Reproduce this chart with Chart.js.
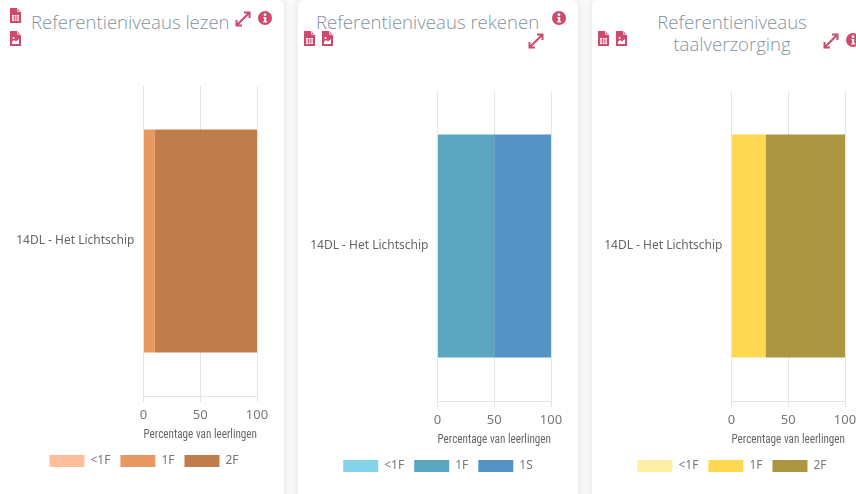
<!DOCTYPE html>
<html><head><meta charset="utf-8">
<script src="https://cdn.jsdelivr.net/npm/chart.js@4"></script>
<style>
html,body{margin:0;padding:0;width:856px;height:494px;overflow:hidden;background:#fafafa;}
.card{position:absolute;top:0;width:286px;height:520px;background:#fff;border-radius:6px;box-shadow:0 0 10px rgba(0,0,0,.1);}
canvas{position:absolute;}
.title{position:absolute;font-family:"Open Sans",sans-serif;font-weight:300;font-size:18.6px;line-height:22px;color:#84939d;text-align:center;white-space:nowrap;}
svg{position:absolute;}
</style></head><body>
<div class="card" style="left:-2px"></div>
<div class="card" style="left:298px;width:280px"></div>
<div class="card" style="left:592px;width:280px"></div>
<div class="title" style="left:31px;top:11px;width:198px">Referentieniveaus lezen</div>
<div class="title" style="left:316px;top:11px;width:222px">Referentieniveaus rekenen</div>
<div class="title" style="left:648px;top:11px;width:168px">Referentieniveaus<br>taalverzorging</div>
<canvas id="c1" style="left:4px;top:71px"></canvas>
<canvas id="c2" style="left:298px;top:76px"></canvas>
<canvas id="c3" style="left:592px;top:76px"></canvas>
<script>
const categories = ["14DL - Het Lichtschip"];
const levels1 = ["<1F", "1F", "2F"];
const levels2 = ["<1F", "1F", "1S"];
const levels3 = ["<1F", "1F", "2F"];
const lezen = [0, 10, 90];
const rekenen = [0, 50, 50];
const taal = [0, 30, 70];
const colors1 = ["rgba(255,178,138,.85)", "rgba(230,142,80,.9)", "rgba(184,106,50,.88)"];
const colors2 = ["rgba(112,202,232,.85)", "rgba(72,156,184,.9)", "rgba(64,136,190,.9)"];
const colors3 = ["rgba(255,236,150,.85)", "rgba(255,212,64,.9)", "rgba(160,136,40,.88)"];
const axisTitle = "Percentage van leerlingen";
const xTicks = [0, 50, 100];

const widenLabelArea = { id: "widenLabelArea", afterLayout(chart) { chart.scales.y.left = 0; } };

function make(id, levels, values, colors) {
  const el = document.getElementById(id);
  el.width = 280; el.height = 424;
  new Chart(el, {
    type: "bar",
    plugins: [widenLabelArea],
    data: { labels: categories,
      datasets: levels.map((l, i) => ({ label: l, data: [values[i]], backgroundColor: colors[i], borderWidth: 0 })) },
    options: {
      indexAxis: "y", responsive: false, animation: false,
      layout: { padding: { top: 15, right: 27, bottom: 18, left: 27 } },
      scales: {
        x: { stacked: true, min: 0, max: 100,
          afterBuildTicks: a => { a.ticks = xTicks.map(v => ({ value: v })); },
          grid: { color: "rgba(0,0,0,.1)", tickLength: 6 },
          ticks: { color: "#777", font: { family: "Noto Sans", size: 13 }, maxRotation: 0, padding: 5 },
          title: { display: true, text: axisTitle, color: "#666", font: { family: "Roboto Condensed, Lato", size: 12 }, padding: { top: 0, bottom: 3 } } },
        y: { stacked: true,
          afterFit: s => { s.width = 112.5; },
          grid: { display: false },
          border: { display: false },
          ticks: { color: "#666", font: { family: "Noto Sans", size: 12 }, padding: 1 } }
      },
      plugins: { tooltip: { enabled: false },
        legend: { position: "bottom", labels: { boxWidth: 35, boxHeight: 12, color: "#777", font: { family: "Noto Sans", size: 12 }, padding: 10 } } }
    }
  });
}
make("c1", levels1, lezen, colors1);
make("c2", levels2, rekenen, colors2);
make("c3", levels3, taal, colors3);

const pink = "#cb4a6e";
const fileGrid = '<path d="M0 0h7l4 4v11H0z" fill="'+pink+'"/><path d="M2 7h7v6H2z" fill="#fff"/><path d="M2 9h7M2 11h7M4.5 7v6M6.8 7v6" stroke="'+pink+'" stroke-width=".7"/><path d="M7.6 0v3.4H11" fill="none" stroke="#fff" stroke-width=".7"/>';
const fileImg = '<path d="M0 0h7l4 4v11H0z" fill="'+pink+'"/><path d="M2 13v-2l2-2 2 1.5 3-2.5v5z" fill="#fff"/><circle cx="3.5" cy="7" r="1" fill="#fff"/><path d="M7.6 0v3.4H11" fill="none" stroke="#fff" stroke-width=".7"/>';
const expand = '<path d="M2 14L14 2M9 1.5h5.5V7M1.5 9v5.5H7" fill="none" stroke="'+pink+'" stroke-width="2"/>';
const info = '<circle cx="7" cy="7" r="7" fill="'+pink+'"/><circle cx="7" cy="3.7" r="1.4" fill="#fff"/><path d="M5.4 6h2.8v4.3h1v1.2H5.2v-1.2h1V7.2h-.8z" fill="#fff"/>';
function icon(x, y, w, h, s) {
  document.body.insertAdjacentHTML("beforeend", `<svg style="left:${x}px;top:${y}px" width="${w}" height="${h}" viewBox="0 0 ${w} ${h}">${s}</svg>`);
}
[[10,8,fileGrid,11,15],[10,31,fileImg,11,15],[235,11,expand,16,16],[258,11,info,14,14],
 [304,31,fileGrid,11,15],[322,31,fileImg,11,15],[528,33,expand,16,16],[552,11,info,14,14],
 [598,31,fileGrid,11,15],[616,31,fileImg,11,15],[823,33,expand,16,16],[846,33,info,14,14]]
 .forEach(a => icon(a[0],a[1],a[3],a[4],a[2]));
</script>
</body></html>
